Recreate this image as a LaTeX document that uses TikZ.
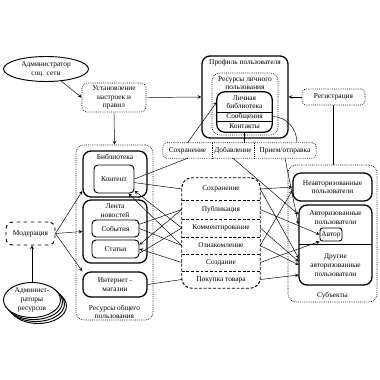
\documentclass[tikz,border=0pt]{standalone}
\usepackage{fontspec}
\setmainfont{Liberation Serif}
\usetikzlibrary{shapes.geometric,positioning,fit,calc}
\newcommand{\diagfont}{\fontsize{6.3}{7.4}\selectfont}

\begin{document}
\begin{tikzpicture}[
  x=0.03cm, y=-0.03cm,
  font=\diagfont,
  sz/.style 2 args = {minimum width=#1*0.3mm, minimum height=#2*0.3mm},
  txt/.style     = {inner sep=0pt, align=center},
  cell/.style    = {txt},
  box/.style     = {txt, draw, thick, rounded corners=1.2mm},
  bigbox/.style  = {txt, draw, line width=1.1pt, rounded corners=2.4mm},
  dotbox/.style  = {txt, draw, densely dotted, semithick, rounded corners=2.4mm},
  dashbox/.style = {txt, draw, dashed, thick, rounded corners=2.4mm},
  actdash/.style = {semithick, dash pattern=on 2.5pt off 1.5pt},
  oval/.style    = {ellipse, draw, thick, fill=white, inner sep=0pt, align=center},
  arr/.style     = {->, >=stealth},
]
\useasboundingbox (0,0) rectangle (380,380);

% administrator and settings
\node[oval, sz={85}{25}] (adm) at (46,69) {Администратор\\соц. сети};
\node[dotbox, sz={64}{29}, rounded corners=1.5mm] (ust) at (114,97.5) {Установление\\настроек и\\правил};

% user profile
\node[bigbox, sz={86}{82}] (prof) at (245,97) {};
\node[txt] (proft) at (245,63) {Профиль пользователя};
\node[dotbox, sz={66}{62}] (resl) at (245,104) {};
\node[txt] (reslt) at (245,83) {Ресурсы личного\\пользования};
\node[cell, sz={55}{20}] (plib) at (244.5,102) {Личная\\библиотека};
\node[cell, sz={55}{9}]  (msg)  at (244.5,116.5) {Сообщения};
\node[cell, sz={55}{11}] (cont) at (244.5,126.5) {Контакты};
\node[bigbox, fit=(plib)(msg)(cont), inner sep=0pt] (plbox) {};
\draw[line width=1.1pt] (plib.south west) -- (plib.south east);
\draw[line width=1.1pt] (msg.south west) -- (msg.south east);

\node[dotbox, sz={63}{16}, rounded corners=1.2mm] (reg) at (333.5,97) {Регистрация};

% operations on personal resources
\node[cell, sz={49}{15}] (sav) at (187.5,150.5) {Сохранение};
\node[cell, sz={42}{15}] (add) at (233,150.5) {Добавление};
\node[cell, sz={62}{15}] (rcv) at (285,150.5) {Прием/отправка};
\node[dotbox, fit=(sav)(add)(rcv), inner sep=0pt, rounded corners=1.2mm] (row) {};
\draw[densely dotted, semithick] (sav.north east) -- (sav.south east);
\draw[densely dotted, semithick] (add.north east) -- (add.south east);

% common resources
\node[dotbox, sz={77}{175}] (pub) at (114.5,232.5) {};
\node[txt] (pubt) at (114.5,312) {Ресурсы общего\\пользования};
\node[bigbox, sz={64}{46}] (lib) at (115,174) {};
\node[txt] (libt) at (115,157) {Библиотека};
\node[box, sz={40}{28}] (cnt) at (114,179) {Контент};
\node[bigbox, sz={64}{63}] (feed) at (115,231.5) {};
\node[txt] (feedt) at (115,210.5) {Лента\\новостей};
\node[box, sz={47}{17}] (evt) at (115.5,228.5) {События};
\node[box, sz={47}{18}] (art) at (115.5,249) {Статьи};
\node[bigbox, sz={64}{25}] (shop) at (115,284.5) {Интернет -\\магазин};

% moderation
\node[dashbox, sz={49}{23}, rounded corners=2mm] (mod) at (30.5,233.5) {Модерация};
\node[oval, sz={57}{35}] (adr3) at (38,306) {};
\node[oval, sz={57}{35}] (adr2) at (36,304) {};
\node[oval, sz={57}{35}] (adr1) at (34,302) {};
\node[oval, sz={57}{35}] (adr)  at (32,300) {Админист-\\раторы\\ресурсов};

% actions
\node[cell, sz={78}{22}] (asav)  at (221,189)   {Сохранение};
\node[cell, sz={78}{19}] (apub)  at (221,209.5) {Публикация};
\node[cell, sz={78}{18}] (acom)  at (221,228)   {Комментирование};
\node[cell, sz={78}{17}] (aread) at (221,245.5) {Ознакомление};
\node[cell, sz={78}{17}] (acre)  at (221,262.5) {Создание};
\node[cell, sz={78}{17}] (abuy)  at (221,279.5) {Покупка товара};
\node[dashbox, fit=(asav)(abuy), inner sep=0pt, rounded corners=3mm,
      dash pattern=on 2.5pt off 1.5pt] (act) {};
\foreach \c in {asav,apub,acom,aread,acre}
  \draw[actdash] (\c.south west) -- (\c.south east);

% subjects
\node[dotbox, sz={89}{137}] (subj) at (332.5,233.5) {};
\node[txt] (subjt) at (332.5,296) {Субъекты};
\node[bigbox, sz={79}{28}] (unauth) at (332.5,187) {Неавторизованные\\пользователи};
\node[bigbox, sz={73}{80}] (auth) at (335.5,245) {};
\node[txt] (autht) at (335.5,217.5) {Авторизованные\\пользователи};
\node[box, sz={22}{13}, rounded corners=0.8mm] (author) at (331,234.5) {Автор};
\node[cell, sz={73}{40}] (oth) at (335.5,265) {Другие\\авторизованные\\пользователи};
\draw[thick] (oth.north west) -- (oth.north east);

% connectors
\draw[arr] (adm) -- (ust.west);
\draw[arr] (ust.east) -- (prof.west);
\draw[arr] (ust.south) -- (pub.north);
\draw[arr] (reg.west) -- (prof.east);
\draw (reg.south) -- (reg.south |- subj.north);
\draw[arr] (sav.north) -- (plib.west);
\draw (cont.south) -- (cont.south |- add.north);
\draw (msg.east) to[out=0, in=90] ([xshift=3.6mm]rcv.north);
\draw (cnt.east) -- (sav.south);

\draw[arr] (mod.east) -- ([yshift=2mm]lib.south west);
\draw[arr] (mod.east) -- (feed.west);
\draw[arr] (mod.east) -- (shop.north west);
\draw[arr] (adr.north) -- (adr.north |- mod.south);

% resources - actions
\draw (cnt.-10) -- (asav.west);
\draw[arr] (acom.west) -- (cnt.-30);
\draw[arr] (aread.west) -- (cnt.-45);
\draw (evt.10) -- (apub.west);
\draw (evt.east) -- (aread.west);
\draw[arr] (acre.west) -- (art.east);
\draw[arr] (apub.west) -- (art.10);
\draw (art.-10) -- (acom.west);
\draw (shop.east) -- (abuy.west);

% actions - subjects
\draw[arr] (asav.east) -- (unauth.west);
\draw[arr] (aread.east) -- ([yshift=-1mm]unauth.west);
\draw[arr] (asav.east) -- ([yshift=2mm]oth.west);
\draw[arr] (apub.east) -- (author.west);
\draw[arr] (acom.east) -- ([yshift=1mm]oth.west);
\draw[arr] (aread.east) -- (oth.west);
\draw[arr] (acre.east) -- (author.south west);
\draw[arr] (abuy.east) -- ([yshift=-3mm]oth.west);
\draw[arr] (add.south) -- ([yshift=-3mm]auth.north west);
\draw[arr] (rcv.south) -- ([yshift=-6mm]auth.north west);
\end{tikzpicture}
\end{document}
